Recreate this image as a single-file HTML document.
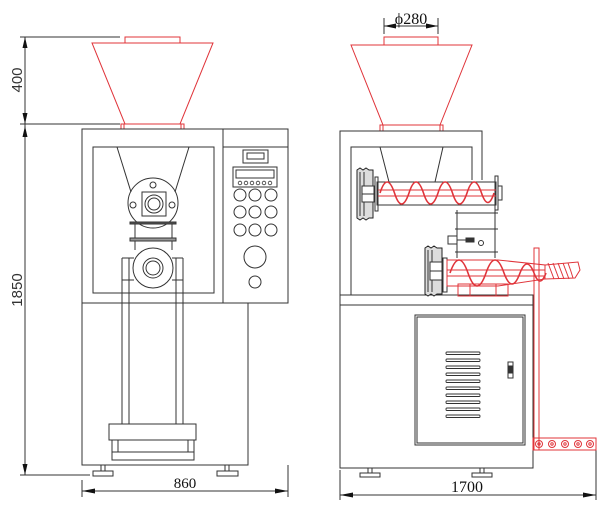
<!DOCTYPE html>
<html><head><style>html,body{margin:0;padding:0;background:#fff}svg{display:block}</style></head>
<body>
<svg width="600" height="507" viewBox="0 0 600 507" xmlns="http://www.w3.org/2000/svg" font-family="Liberation Sans, sans-serif">
<g fill="none" stroke="#333" stroke-width="1">
<line x1="20" y1="37" x2="120" y2="37"/>
<line x1="20" y1="124" x2="120" y2="124"/>
<line x1="20" y1="475" x2="90" y2="475"/>
<line x1="25" y1="37" x2="25" y2="475"/>
<line x1="82" y1="480" x2="82" y2="497"/>
<line x1="288" y1="465" x2="288" y2="497"/>
<line x1="82" y1="491" x2="288" y2="491"/>
</g>
<g fill="#111">
<polygon points="25,37 22.5,48 27.5,48"/><polygon points="25,124 22.5,113 27.5,113"/>
<polygon points="25,126 22.5,137 27.5,137"/><polygon points="25,475 22.5,464 27.5,464"/>
<polygon points="82,491 95,488.5 95,493.5"/><polygon points="288,491 275,488.5 275,493.5"/>
</g>
<text x="0" y="0" transform="translate(22,80) rotate(-90)" font-size="15" fill="#333" text-anchor="middle">400</text>
<text x="0" y="0" transform="translate(22,290) rotate(-90)" font-size="15" fill="#333" text-anchor="middle">1850</text>
<text x="185" y="488" font-size="15" fill="#111" text-anchor="middle" font-family="Liberation Serif, serif">860</text>

<g fill="none" stroke="#e0343a" stroke-width="1">
<rect x="125" y="37" width="55" height="6"/>
<polygon points="92,43 213,43 180,124 125,124"/>
<rect x="121" y="124" width="63" height="5"/>
<line x1="124" y1="124" x2="124" y2="129"/><line x1="181" y1="124" x2="181" y2="129"/>
</g>
<g fill="none" stroke="#333" stroke-width="1">
<rect x="82" y="129" width="206" height="174"/>
<line x1="223" y1="129" x2="223" y2="303"/>
<line x1="223" y1="147" x2="288" y2="147"/>
<rect x="93" y="147" width="121" height="146"/>
<rect x="82" y="303" width="166" height="162"/>
<line x1="117" y1="147" x2="131" y2="192"/><line x1="189" y1="147" x2="175" y2="192"/>
<circle cx="153" cy="203" r="25"/>
<rect x="142" y="192" width="24" height="24"/>
<circle cx="154" cy="204" r="9"/><circle cx="154" cy="204" r="6"/>
<circle cx="153" cy="185" r="3"/><circle cx="133" cy="205" r="3"/><circle cx="172" cy="205" r="3"/>
<rect x="130" y="222" width="46" height="2" fill="#555"/>
<line x1="135" y1="224" x2="135" y2="250"/><line x1="172" y1="224" x2="172" y2="250"/>
<rect x="130" y="238" width="46" height="3" fill="#999"/>
<circle cx="153" cy="268" r="20"/><circle cx="153" cy="268" r="10"/><circle cx="153" cy="268" r="7"/>
<line x1="122" y1="258" x2="134" y2="258"/><line x1="172" y1="258" x2="183" y2="258"/>
<line x1="122" y1="258" x2="122" y2="424"/><line x1="129" y1="258" x2="129" y2="424"/>
<line x1="176" y1="258" x2="176" y2="424"/><line x1="183" y1="258" x2="183" y2="424"/>
<line x1="122" y1="280" x2="134" y2="280"/><line x1="172" y1="280" x2="183" y2="280"/>
<rect x="109" y="424" width="87" height="16"/>
<rect x="112" y="440" width="82" height="20"/>
<line x1="112" y1="452" x2="194" y2="452"/>
<line x1="118" y1="440" x2="118" y2="452"/><line x1="188" y1="440" x2="188" y2="452"/>
<rect x="93" y="471" width="20" height="5"/><line x1="101" y1="465" x2="101" y2="471"/><line x1="105" y1="465" x2="105" y2="471"/>
<rect x="217" y="471" width="21" height="5"/><line x1="225" y1="465" x2="225" y2="471"/><line x1="229" y1="465" x2="229" y2="471"/>
<rect x="243" y="150" width="25" height="13"/><rect x="247" y="153" width="17" height="6"/>
<rect x="233" y="167" width="44" height="20"/><rect x="236" y="170" width="38" height="8"/>
<g stroke-width="0.8"><circle cx="240" cy="183" r="1.8"/><circle cx="246" cy="183" r="1.8"/><circle cx="252" cy="183" r="1.8"/><circle cx="258" cy="183" r="1.8"/><circle cx="264" cy="183" r="1.8"/><circle cx="270" cy="183" r="1.8"/></g>
<circle cx="240" cy="195" r="6"/><circle cx="255" cy="195" r="6"/><circle cx="271" cy="195" r="6"/>
<circle cx="240" cy="212" r="6"/><circle cx="255" cy="212" r="6"/><circle cx="271" cy="212" r="6"/>
<circle cx="240" cy="230" r="6"/><circle cx="255" cy="230" r="6"/><circle cx="271" cy="230" r="6"/>
<circle cx="255" cy="257" r="11"/><circle cx="255" cy="282" r="6"/>
</g>

<g fill="none" stroke="#333" stroke-width="1">
<line x1="384" y1="18" x2="384" y2="34"/><line x1="438" y1="18" x2="438" y2="34"/>
<line x1="384" y1="26" x2="438" y2="26"/>
<line x1="340" y1="470" x2="340" y2="500"/><line x1="596" y1="450" x2="596" y2="500"/>
<line x1="340" y1="495" x2="596" y2="495"/>
</g>
<g fill="#111">
<polygon points="384,26 396,23.5 396,28.5"/><polygon points="438,26 426,23.5 426,28.5"/>
<polygon points="340,495 353,492.5 353,497.5"/><polygon points="596,495 583,492.5 583,497.5"/>
</g>
<text x="411" y="24" font-size="16" fill="#111" text-anchor="middle" font-family="Liberation Serif, serif">ϕ280</text>
<text x="467" y="492" font-size="16" fill="#111" text-anchor="middle" font-family="Liberation Serif, serif">1700</text>

<g fill="none" stroke="#e0343a" stroke-width="1">
<rect x="384" y="37" width="54" height="8"/>
<polygon points="351,45 472,45 440,125 383,125"/>
<rect x="380" y="125" width="63" height="6"/>
<line x1="383" y1="125" x2="383" y2="131"/><line x1="440" y1="125" x2="440" y2="131"/>
</g>
<g fill="none" stroke="#333" stroke-width="1">
<polyline points="340,468 340,131 482,131 482,180"/>
<polyline points="351,295 351,147 472,147 472,180"/>
<line x1="380" y1="147" x2="389" y2="182"/><line x1="443" y1="147" x2="435" y2="182"/>
<rect x="340" y="295" width="193" height="10"/>
<polyline points="340,305 340,468 533,468 533,305"/>
<rect x="415" y="315" width="110" height="130"/><rect x="417" y="317" width="106" height="126"/>
<g stroke-width="0.9">
<rect x="446" y="352" width="34" height="2.5" rx="1"/><rect x="446" y="359" width="34" height="2.5" rx="1"/>
<rect x="446" y="366" width="34" height="2.5" rx="1"/><rect x="446" y="373" width="34" height="2.5" rx="1"/>
<rect x="446" y="380" width="34" height="2.5" rx="1"/><rect x="446" y="387" width="34" height="2.5" rx="1"/>
<rect x="446" y="394" width="34" height="2.5" rx="1"/><rect x="446" y="401" width="34" height="2.5" rx="1"/>
<rect x="446" y="408" width="34" height="2.5" rx="1"/><rect x="446" y="415" width="34" height="2.5" rx="1"/>
</g>
<rect x="508" y="362" width="5" height="16"/><rect x="509" y="366" width="3" height="7" fill="#333"/>
<rect x="360" y="473" width="20" height="4"/><line x1="368" y1="468" x2="368" y2="473"/><line x1="372" y1="468" x2="372" y2="473"/>
<rect x="472" y="473" width="20" height="4"/><line x1="480" y1="468" x2="480" y2="473"/><line x1="484" y1="468" x2="484" y2="473"/>
<rect x="377" y="182" width="119" height="23"/>
<rect x="375" y="177" width="3" height="34"/><rect x="495" y="176" width="3" height="34"/>
<rect x="498" y="186" width="4" height="14"/>
<!-- upper pulley -->
<path d="M357,170 l3,-2 3,2 3,-2 3,2 4,0 0,48 -4,0 -3,2 -3,-2 -3,2 -3,-2 z" fill="#ddd" stroke="#222"/>
<line x1="360" y1="172" x2="360" y2="216"/><line x1="364" y1="172" x2="364" y2="216"/>
<rect x="362" y="186" width="12" height="16" fill="#fff"/>
<line x1="362" y1="194" x2="374" y2="194"/>
<line x1="457" y1="210" x2="457" y2="258"/><line x1="495" y1="210" x2="495" y2="258"/>
<line x1="455" y1="213" x2="498" y2="213"/><line x1="455" y1="229" x2="498" y2="229"/><line x1="455" y1="252" x2="498" y2="252"/>
<rect x="448" y="236" width="9" height="8"/><line x1="457" y1="240" x2="473" y2="240"/>
<rect x="466" y="238" width="8" height="4" fill="#333"/><circle cx="481" cy="243" r="2.5"/>
<!-- lower pulley -->
<path d="M425,248 l3,-2 3,2 3,-2 3,2 5,0 0,46 -5,0 -3,2 -3,-2 -3,2 -3,-2 z" fill="#ddd" stroke="#222"/>
<line x1="428" y1="250" x2="428" y2="292"/><line x1="432" y1="250" x2="432" y2="292"/>
<rect x="430" y="262" width="12" height="18" fill="#fff"/>
<line x1="430" y1="271" x2="442" y2="271"/>
<rect x="443" y="258" width="4" height="34"/>
</g>
<g fill="none" stroke="#e0343a" stroke-width="1">
<line x1="378" y1="190" x2="496" y2="190"/><line x1="378" y1="196" x2="496" y2="196"/>
<path d="M380,193 Q387,171 394.5,193 Q401.5,215 409,193 Q416,171 423.5,193 Q430.5,215 438,193 Q445,171 452.5,193 Q459.5,215 467,193 Q474,171 481.5,193 Q488,212 494,193" stroke-width="1.6"/>
<polygon points="447,260 498,260 545,265 545,279 498,286 447,286"/>
<line x1="447" y1="270" x2="545" y2="270"/><line x1="447" y1="276" x2="545" y2="276"/>
<path d="M450,273 Q459,247 468,273 Q477,299 486,273 Q495,247 504,273 Q512,295 520,273 Q527,255 534,273 Q540,289 546,273" stroke-width="1.6"/>
<polygon points="545,265 578,262 580,270 575,278 545,279"/>
<path d="M548,263 q3,8 6,16 M553,263 q3,8 6,16 M558,263 q3,8 6,16 M563,263 q3,8 6,16 M568,263 q3,8 5,15"/>
<rect x="458" y="284" width="50" height="12"/>
<line x1="470" y1="284" x2="470" y2="296"/><line x1="496" y1="284" x2="496" y2="296"/>
<rect x="534" y="248" width="5" height="202"/>
<rect x="533" y="438" width="63" height="12"/>
<circle cx="539" cy="444" r="3.5"/><circle cx="552" cy="444" r="3.5"/><circle cx="565" cy="444" r="3.5"/><circle cx="578" cy="444" r="3.5"/><circle cx="590" cy="444" r="3.5"/>
<circle cx="539" cy="444" r="1.2"/><circle cx="552" cy="444" r="1.2"/><circle cx="565" cy="444" r="1.2"/><circle cx="578" cy="444" r="1.2"/><circle cx="590" cy="444" r="1.2"/>
</g>
</svg>
</body></html>
